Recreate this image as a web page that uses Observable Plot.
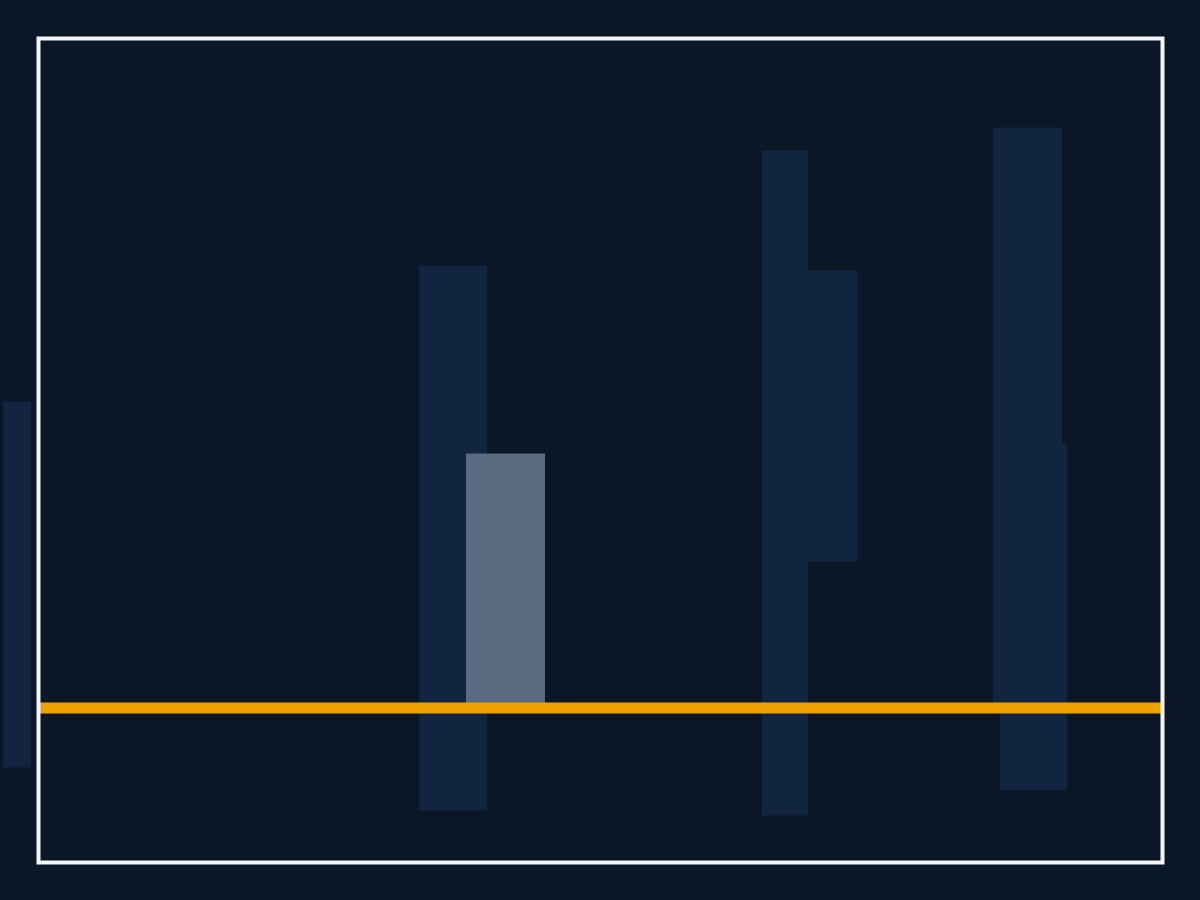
<!DOCTYPE html>
<html>
<head>
<meta charset="utf-8">
<script src="https://cdn.jsdelivr.net/npm/d3@7"></script>
<script src="https://cdn.jsdelivr.net/npm/@observablehq/plot@0.6"></script>
<style>
  html, body { margin: 0; padding: 0; background: #0b1626; }
  #chart svg { display: block; }
</style>
</head>
<body>
<div id="chart"></div>
<script>
// Dark background blocks
const blockX1 = [-3.5, 38.1, 72.4, 77.0, 95.5, 96.2];
const blockX2 = [-0.7, 44.9, 77.0, 81.9, 102.4, 102.9];
const blockY1 = [-6.0, -10.3, -10.8, 14.6, 0, -8.3];
const blockY2 = [30.6, 44.2, 55.7, 43.7, 58.0, 26.4];

// Highlighted bar
const barX1 = [42.8];
const barX2 = [50.7];
const barValue = [25.4];

// Reference line
const baseline = [0];

const blocks = blockX1.map((x1, i) => ({x1, x2: blockX2[i], y1: blockY1[i], y2: blockY2[i]}));
const bars = barX1.map((x1, i) => ({x1, x2: barX2[i], y: barValue[i]}));

const chart = Plot.plot({
  width: 1200,
  height: 900,
  marginLeft: 38,
  marginRight: 38,
  marginTop: 38,
  marginBottom: 38,
  style: {background: "#0b1626", overflow: "visible"},
  x: {domain: [0, 112.4], axis: null},
  y: {domain: [-15.45, 66.95], axis: null},
  marks: [
    Plot.rect(blocks, {x1: "x1", x2: "x2", y1: "y1", y2: "y2", fill: "#122540"}),
    Plot.rect(bars, {x1: "x1", x2: "x2", y1: 0, y2: "y", fill: "#5a6a80"}),
    Plot.ruleY(baseline, {stroke: "#f0a200", strokeWidth: 11}),
    Plot.frame({stroke: "#f4f6f8", strokeWidth: 4})
  ]
});
document.getElementById("chart").appendChild(chart);
</script>
</body>
</html>
